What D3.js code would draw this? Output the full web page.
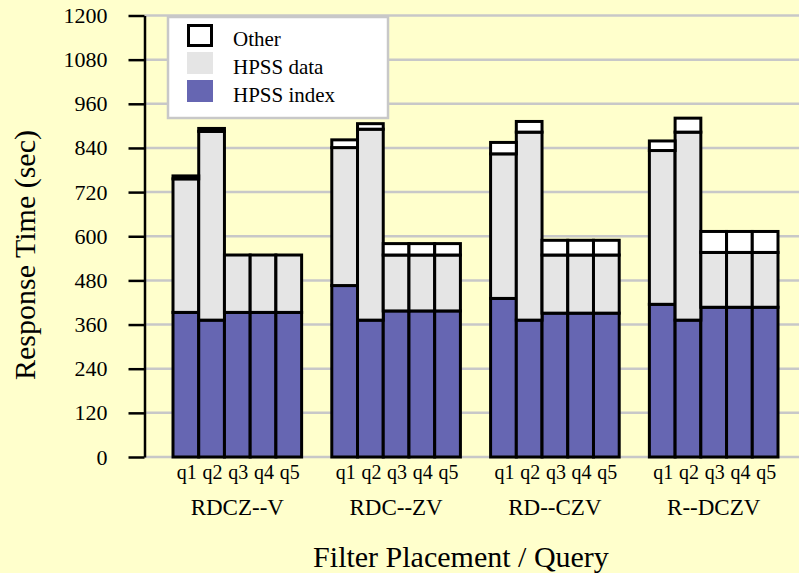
<!DOCTYPE html>
<html>
<head>
<meta charset="utf-8">
<script src="https://cdn.jsdelivr.net/npm/d3@7"></script>
<style>
  html, body { margin: 0; padding: 0; background: #ffffcc; }
  svg { display: block; }
  text { font-family: "Liberation Serif", "Times New Roman", serif; fill: #000; }
</style>
</head>
<body>
<svg id="chart" width="799" height="573"></svg>
<script>
// ---- Data ----
const groups = ["RDCZ--V", "RDC--ZV", "RD--CZV", "R--DCZV"];
const queries = ["q1", "q2", "q3", "q4", "q5"];
const hpssIndex = [
  [393, 372, 393, 393, 393],
  [466, 372, 397, 397, 397],
  [431, 372, 391, 391, 391],
  [415, 372, 407, 407, 407]
];
const hpssData = [
  [363, 513, 156, 156, 156],
  [375, 519, 152, 152, 152],
  [393, 511, 158, 158, 158],
  [418, 511, 149, 149, 149]
];
const otherTime = [
  [8, 8, 0, 0, 0],
  [21, 15, 31, 31, 31],
  [31, 29, 40, 40, 40],
  [26, 38, 57, 57, 57]
];
const yTicks = [0, 120, 240, 360, 480, 600, 720, 840, 960, 1080, 1200];
const seriesNames = ["HPSS index", "HPSS data", "Other"];
const seriesColors = ["#6666b2", "#e5e5e5", "#ffffff"];

// ---- Build table ----
const rows = [];
groups.forEach((g, gi) => {
  queries.forEach((q, qi) => {
    rows.push({ group: g, query: q,
      "HPSS index": hpssIndex[gi][qi],
      "HPSS data": hpssData[gi][qi],
      "Other": otherTime[gi][qi] });
  });
});
const stacked = d3.stack().keys(seriesNames)(rows);

const svg = d3.select("#chart");
const W = 799, H = 573;
svg.append("rect").attr("width", W).attr("height", H).attr("fill", "#ffffcc");

const axisX = 144.5;
const y = d3.scaleLinear().domain([0, 1200]).range([457, 15.5]);
const x0 = d3.scaleBand().domain(groups).range([173, 778]).paddingInner(0.19).paddingOuter(0);
const x1 = d3.scaleBand().domain(queries).range([0, x0.bandwidth()]).padding(0);

// gridlines
svg.append("g").selectAll("line").data(yTicks).join("line")
  .attr("x1", axisX).attr("x2", W)
  .attr("y1", d => y(d)).attr("y2", d => y(d))
  .attr("stroke", "#c8c8c8").attr("stroke-width", 2.5);

// bars
const color = d3.scaleOrdinal().domain(seriesNames).range(seriesColors);
const barG = svg.append("g");
stacked.forEach(layer => {
  barG.append("g").selectAll("rect").data(layer).join("rect")
    .attr("x", d => x0(d.data.group) + x1(d.data.query))
    .attr("width", x1.bandwidth())
    .attr("y", d => y(d[1]))
    .attr("height", d => y(d[0]) - y(d[1]))
    .attr("fill", color(layer.key))
    .attr("stroke", "#000")
    .attr("stroke-width", 3);
});

// y axis
const yAxis = d3.axisLeft(y).tickValues(yTicks).tickFormat(d3.format("d"))
  .tickSize(16).tickPadding(21).tickSizeOuter(0);
const ax = svg.append("g").attr("transform", `translate(${axisX},0)`).call(yAxis);
ax.select(".domain").attr("stroke", "#000").attr("stroke-width", 2.5);
ax.selectAll(".tick line").attr("stroke", "#000").attr("stroke-width", 2.5);
ax.selectAll(".tick text")
  .style("font-family", '"Liberation Serif", "Times New Roman", serif')
  .style("font-size", "22px").attr("fill", "#000");

// query labels
const qLab = svg.append("g");
rows.forEach(r => {
  qLab.append("text")
    .attr("x", x0(r.group) + x1(r.query) + x1.bandwidth() / 2 + 1)
    .attr("y", 479)
    .attr("text-anchor", "middle")
    .style("font-size", "20px")
    .text(r.query);
});
// group labels
svg.append("g").selectAll("text").data(groups).join("text")
  .attr("x", d => x0(d) + x0.bandwidth() / 2)
  .attr("y", 515)
  .attr("text-anchor", "middle")
  .style("font-size", "23px")
  .text(d => d);

// axis titles
svg.append("text").attr("x", 461).attr("y", 567).attr("text-anchor", "middle")
  .style("font-size", "30px").text("Filter Placement / Query");
svg.append("text").attr("transform", "translate(35,255) rotate(-90)")
  .attr("text-anchor", "middle").style("font-size", "30px").text("Response Time (sec)");

// legend
const lg = svg.append("g");
lg.append("rect").attr("x", 168).attr("y", 17).attr("width", 220).attr("height", 101)
  .attr("fill", "#fff").attr("stroke", "#c8c8c8").attr("stroke-width", 2.5);
const legendItems = ["Other", "HPSS data", "HPSS index"];
const legendY = [24, 52, 80];
legendItems.forEach((name, i) => {
  const isOther = name === "Other";
  lg.append("rect")
    .attr("x", isOther ? 188.5 : 187).attr("y", isOther ? legendY[i] + 1.5 : legendY[i])
    .attr("width", isOther ? 23 : 26).attr("height", isOther ? 20 : 22)
    .attr("fill", color(name))
    .attr("stroke", isOther ? "#000" : "none").attr("stroke-width", 3);
  lg.append("text").attr("x", 233).attr("y", legendY[i] + 22)
    .style("font-size", "21px").text(name);
});
</script>
</body>
</html>
